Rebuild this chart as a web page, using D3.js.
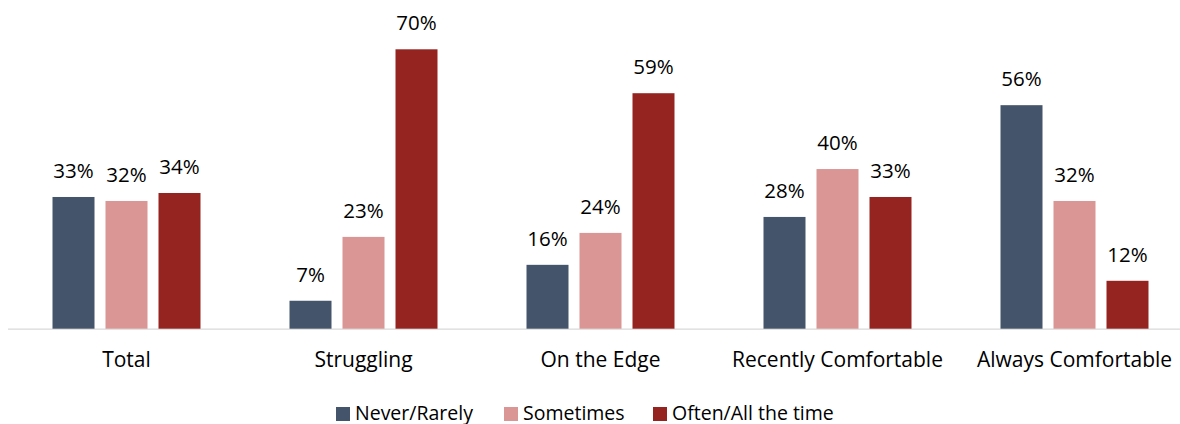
<!DOCTYPE html>
<html><head><meta charset="utf-8">
<script src="https://cdn.jsdelivr.net/npm/d3@7"></script>
<style>
html,body{margin:0;padding:0;background:#fff;}
svg text{font-family:"Open Sans", sans-serif;fill:#000;}
</style></head>
<body>
<svg id="c" width="1180" height="424"></svg>
<script>
const categories = ["Total","Struggling","On the Edge","Recently Comfortable","Always Comfortable"];
const seriesNames = ["Never/Rarely","Sometimes","Often/All the time"];
const neverRarely = [33,7,16,28,56];
const sometimes = [32,23,24,40,32];
const oftenAll = [34,70,59,33,12];
const colors = ["#44546A","#DA9694","#952421"];

const svg = d3.select("#c");
const baseline = 328.7;
const x0 = d3.scaleBand().domain(categories).range([8,1193]).paddingInner(0).paddingOuter(0);
const x1 = d3.scaleBand().domain(seriesNames).range([0,x0.bandwidth()]).paddingInner(0.2075).paddingOuter(0.8396);
const y = d3.scaleLinear().domain([0,70]).range([baseline,49.3]);

const series = [neverRarely, sometimes, oftenAll];

svg.append("line").attr("x1",8).attr("x2",1180).attr("y1",baseline+0.5).attr("y2",baseline+0.5)
  .attr("stroke","#D9D9D9").attr("stroke-width",1.3);

const g = svg.append("g");
categories.forEach((c,i)=>{
  series.forEach((s,j)=>{
    const bx = x0(c)+x1(seriesNames[j]);
    g.append("rect").attr("x",bx).attr("width",x1.bandwidth())
      .attr("y",y(s[i])).attr("height",baseline-y(s[i])).attr("fill",colors[j]);
    g.append("text").attr("x",bx+x1.bandwidth()/2).attr("y",y(s[i])-19)
      .attr("text-anchor","middle").attr("font-size",20.5).text(s[i]+"%");
  });
  svg.append("text").attr("x",x0(c)+x0.bandwidth()/2).attr("y",367)
    .attr("text-anchor","middle").attr("font-size",21).text(c);
});

const legX = [336,504,653];
seriesNames.forEach((n,j)=>{
  svg.append("rect").attr("x",legX[j]).attr("y",407).attr("width",14).attr("height",14).attr("fill",colors[j]);
  svg.append("text").attr("x",legX[j]+19).attr("y",419.5).attr("font-size",19.5).text(n);
});
</script>
</body></html>
